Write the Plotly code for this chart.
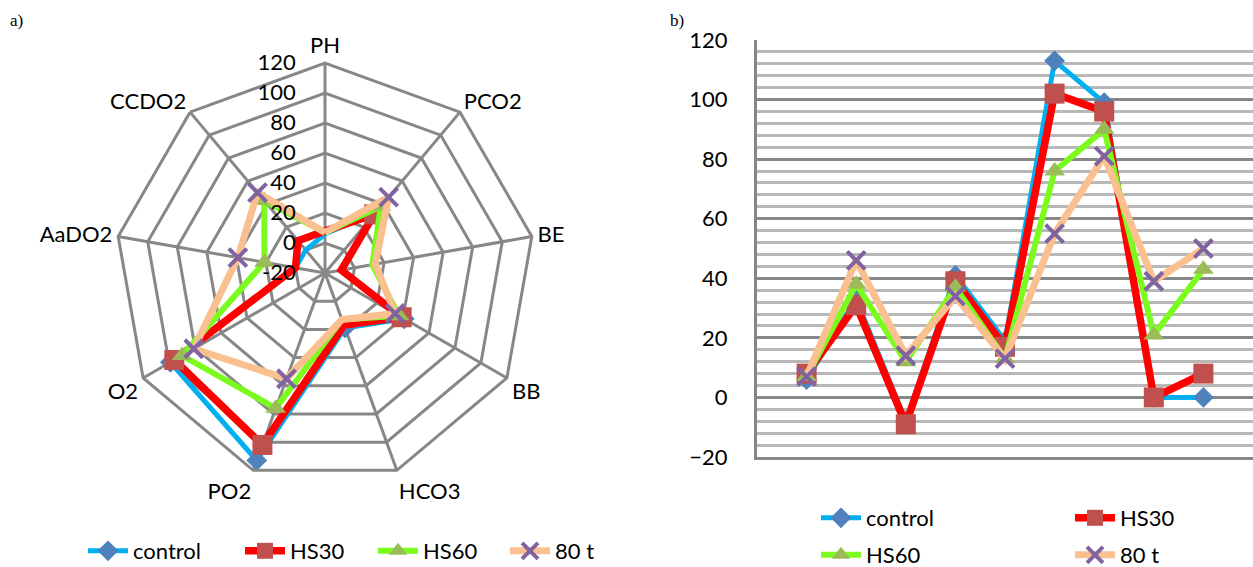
import plotly.graph_objects as go

categories = ["PH", "PCO2", "BE", "BB", "HCO3", "PO2", "O2", "AaDO2", "CCDO2"]
series_names = ["control", "HS30", "HS60", "80 t"]
control = [6, 33, -8, 41, 19, 113, 99, 0, 0]
hs30 = [8, 31, -9, 39, 17, 102, 96, 0, 8]
hs60 = [7, 38, 12, 37, 13, 76, 90, 21, 43]
t80 = [7, 46, 14, 34, 13, 55, 81, 39, 50]
radial_ticks = [-20, 0, 20, 40, 60, 80, 100, 120]

values = [control, hs30, hs60, t80]
line_colors = ["#00B0F0", "#FF0000", "#7CFC1E", "#FAC090"]
marker_colors = ["#4F81BD", "#C0504D", "#9BBB59", "#8064A2"]
symbols = ["diamond", "square", "triangle-up", "x-thin"]
msizes = [16, 20, 18, 18]
lwidths = [5, 7.5, 6, 7]

FONT = "Lato"
W, H = 1253, 567

fig = go.Figure()

cat_closed = categories + [categories[0]]
xpos = list(range(1, len(categories) + 1))

for i, name in enumerate(series_names):
    mk = dict(symbol=symbols[i], size=msizes[i], color=marker_colors[i])
    if symbols[i] == "x-thin":
        mk["line"] = dict(width=4, color=marker_colors[i])
    else:
        mk["line"] = dict(width=0)
    r = values[i] + [values[i][0]]
    fig.add_trace(go.Scatterpolar(
        r=r, theta=cat_closed, mode="lines+markers", name=name,
        line=dict(color=line_colors[i], width=lwidths[i]),
        marker=mk, legend="legend" if i == 0 else f"legend{i+1}",
        subplot="polar", cliponaxis=False))
    fig.add_trace(go.Scatter(
        x=xpos, y=values[i], mode="lines+markers", name=name,
        line=dict(color=line_colors[i], width=lwidths[i]),
        marker=mk, legend=f"legend{i+5}", cliponaxis=False))

# radial tick labels padded on the right with invisible digits so they sit left of the spoke
pad = "<span style='color:rgba(0,0,0,0)'>00</span>"
radial_text = [f"{v}{pad}" for v in radial_ticks]

# radar geometry (pixels)
cx, cy, R = 325, 273, 210
fig.update_layout(
    width=W, height=H,
    margin=dict(l=0, r=0, t=0, b=0, autoexpand=False),
    paper_bgcolor="white", plot_bgcolor="white",
    font=dict(family=FONT, size=22, color="black"),
    polar=dict(
        domain=dict(x=[(cx - R) / W, (cx + R) / W], y=[(H - cy - R) / H, (H - cy + R) / H]),
        gridshape="linear", bgcolor="white",
        radialaxis=dict(range=[-20, 120], tickvals=radial_ticks, ticktext=radial_text,
                        angle=90, side="counterclockwise", showline=False, ticks="",
                        gridcolor="#878787", gridwidth=3, tickangle=90,
                        tickfont=dict(family=FONT, size=22)),
        angularaxis=dict(direction="clockwise", rotation=90, showline=True,
                         linecolor="#878787", linewidth=3, gridcolor="#878787",
                         gridwidth=3, ticks="", tickfont=dict(family=FONT, size=22)),
    ),
    xaxis=dict(domain=[757 / W, 1.0], range=[0, 10], showticklabels=False,
               showgrid=False, zeroline=False, showline=True, linecolor="#878787",
               linewidth=3, ticks=""),
    yaxis=dict(domain=[(H - 457) / H, (H - 40) / H], range=[-20, 120], dtick=20,
               showgrid=True, gridcolor="#878787", gridwidth=3, zeroline=False,
               showline=True, linecolor="#878787", linewidth=3, ticks="",
               ticklabelstandoff=22, tickfont=dict(family=FONT, size=22),
               minor=dict(dtick=4, showgrid=True, gridcolor="#B8B8B8", gridwidth=3)),
    showlegend=True,
)

leg_common = dict(orientation="h", xanchor="left", yanchor="middle",
                  bgcolor="rgba(0,0,0,0)", font=dict(family=FONT, size=22),
                  itemwidth=40)
# legend positions for text starts (px)
leg_pos = {
    "legend": (133, 551), "legend2": (290, 551), "legend3": (423, 551), "legend4": (555, 551),
    "legend5": (866, 518), "legend6": (1120, 518), "legend7": (866, 555), "legend8": (1120, 555),
}
for key, (tx, ty) in leg_pos.items():
    fig.update_layout({key: dict(leg_common, x=(tx - 50) / W, y=(H - ty) / H)})

fig.add_annotation(text="a)", x=8 / W, y=(H - 20) / H, xref="paper", yref="paper",
                   showarrow=False, xanchor="left", yanchor="middle",
                   font=dict(family="Liberation Serif", size=17))
fig.add_annotation(text="b)", x=668 / W, y=(H - 20) / H, xref="paper", yref="paper",
                   showarrow=False, xanchor="left", yanchor="middle",
                   font=dict(family="Liberation Serif", size=17))

fig.write_html("out.html")
